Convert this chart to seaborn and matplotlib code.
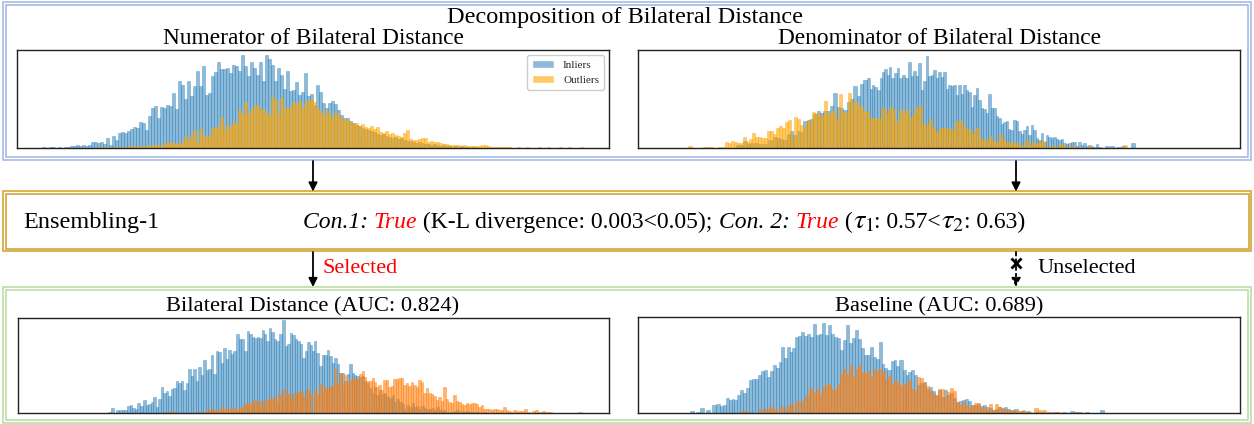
import numpy as np
import pandas as pd
import matplotlib
matplotlib.use("Agg")
import matplotlib.pyplot as plt
import matplotlib.colors as mcolors
from matplotlib.patches import Rectangle, FancyArrowPatch, Patch
from matplotlib.lines import Line2D
import seaborn as sns

sns.set_theme(style="white")
plt.rcParams["font.family"] = ["Liberation Serif", "DejaVu Serif"]
plt.rcParams["mathtext.fontset"] = "stix"

# ---------------- data (bin positions and heights) ----------------
# Numerator (top-left): regular bins
TL_IN_START, TL_IN_STEP = 27, 3
TL_IN = [1,0,1,1,0,1,0,1,1,2, 2,3,2,3,2,3,6,6,5,6, 4,10,3,12,8,15,16,15,17,19,
         21,20,26,25,18,32,40,42,30,41, 40,43,42,55,39,67,63,49,67,52,
         62,77,62,82,53,55,72,76,86,79, 79,80,75,83,82,77,93,82,72,86,
         80,73,86,67,93,89,83,67,80,73, 59,77,57,58,66,53,56,75,52,54,
         43,63,56,45,40,45,47,44,
         38,33,30,30,27,25,23,22,20,19, 18,17,16,14,13,14,12,11,10,11,
         9,10,8,7,7,6,5,6,5,4, 4,3,4,3,2,3,2,2,1,2, 1,2,1,1,0,1]
TL_OUT_START, TL_OUT_STEP = 81, 3
TL_OUT = [1,0,1,1,0,1,1,1,0,1, 1,2,1,2,2,1,2,3,2,3, 3,2,5,5,6,5,4,5,6,12,
          8,13,18,6,19,13,11,12,20,20, 22,31,18,23,21,26,24,38,34,46,
          34,38,42,43,38,39,35,33,51,48, 34,50,39,41,40,46,44,47,40,45,
          48,49,46,40,37,33,38,34,30,36,
          33,30,29,28,26,24,25,22,24,21, 20,22,19,21,16,15,17,14,15,13,
          12,11,15,18,9,8,8,9,10,10, 6,7,6,6,5,4,4,3,3,3,
          3,2,3,2,2,2,2,2,3,3, 2,1,1,1,1,1,1,1,0,0,
          0.7,0,0,0.7,0,0,0,0.7,0,0, 0.7,0,0,0,0.7,0,0,0.7,0,0, 0,0.7]

# Denominator (top-right)
TR_IN_X = [100,103,107,110,113,118,122,127,132,137,140,143,147,150,153,157,160,163,167,170,
           173,177,180,183,187,190,193,197,200,203,207,210,213,217,220,223,227,230,233,235,
           237,240,243,245,247,250,252,254,257,260,262,265,269,271,274,276,279,281,284,286,
           289,291,294,296,299,301,304,306,309,311,314,316,319,321,324,326,329,331,334,336,
           339,341,344,346,349,351,354,356,359,361,364,366,369,371,373,376,379,381,384,386,
           389,391,394,396,399,401,404,406,409,411,414,416,419,421,424,426,429,431,434,436,
           439,441,444,446,449,451,454,456,459,461,465,469,474,480,485,495]
TR_IN_H = [3,3,7,4,5,5,4,4,8,11,10,9,8,14,17,13,17,16,27,28,
           29,34,37,35,37,37,42,55,41,40,38,46,49,62,52,64,68,70,59,63,
           61,58,70,76,79,73,81,70,75,80,70,73,70,86,72,77,72,85,58,67,
           92,72,73,78,70,76,71,76,59,63,62,63,53,63,54,63,58,56,41,53,
           60,48,40,39,35,54,40,40,32,30,24,26,27,19,18,28,27,17,14,18,
           22,13,23,18,10,8,15,6,13,11,10,11,9,8,9,5,4,5,6,6,
           2,6,3,5,2,3,2,1,4,1,0.5,2,2,1,2,5]
TR_OUT_X = [52,67,70,73,82,85,88,91,94,97,100,103,106,109,112,115,118,121,124,127,
            130,133,136,139,142,145,148,151,154,157,160,163,166,169,172,175,178,181,184,187,
            190,193,196,199,202,205,208,211,214,217,220,223,226,229,232,235,238,241,245,248,
            252,255,259,262,265,269,272,275,279,282,285,289,292,295,299,302,305,309,312,315,
            319,322,325,329,332,335,339,342,345,349,352,355,359,362,365,369,372,375,379,382,
            385,389,392,395,399,402,405,409,412,415,419,422,425,429,432,435,439,442,452,487]
TR_OUT_H = [2,1,1,1,1,1,6,5,7,6,5,5,11,6,9,15,11,11,10,10,
            17,17,14,20,22,20,26,28,11,31,29,23,20,27,27,36,35,33,33,47,
            34,36,38,29,54,36,35,55,46,47,43,41,36,37,30,30,30,29,40,35,
            41,38,27,39,35,38,30,34,41,42,24,23,29,21,16,20,20,20,19,18,
            27,28,22,19,18,14,20,10,8,8,12,7,6,14,9,6,5,6,5,3,
            2,8,3,6,5,6,7,1,2,2,1,4,3,1,2,1,1,1,2,3]

# Bilateral distance (bottom-left)
BL_IN_X = [92,95,100,103,105,108,111,113,116,118,121,123,127,129,132,134,137,139,142,144,
           147,149,152,154,157,159,162,164,167,169,172,174,177,179,182,184,187,189,192,194,
           197,199,202,204,207,209,212,214,217,220,222,225,228,230,233,235,238,240,243,245,
           247,250,252,255,257,260,263,266,268,271,273,276,278,281,283,286,288,291,
           293,295,297,300,303,306,308,311,313,316,318,321,323,326,328,331,333,336,338,340,
           343,346,348,350,353,356,358,360,363,365,368,370,373,376,378,380,383,386,388,390,
           393,396,398,400,403,405,408,410,413,415,418,420,423,426,428,430,433,436,438,440,
           443,446,448,450,453,456,460,466]
BL_IN_H = [1,5,3,3,3,3,7,8,5,4,10,7,13,8,9,11,16,6,14,26,
           20,22,17,24,25,32,30,32,23,30,44,37,44,32,46,38,53,43,44,58,
           39,62,61,50,65,54,63,59,62,79,74,74,62,82,79,76,75,76,75,83,
           79,72,85,81,74,72,79,93,67,69,80,78,74,72,69,55,62,71,
           68,62,72,60,47,58,58,63,57,50,55,49,40,40,32,39,49,40,38,37,
           36,37,32,30,25,20,26,18,23,19,20,17,15,18,11,14,11,9,4,8,
           6,10,6,7,4,7,5,4,4,5,3,6,3,2,3,1,1,1,2,3,
           1,2,1,2,1,1,1,1]
BL_OUT_X = [148,152,157,180,183,190,193,195,197,200,204,207,209,212,214,217,219,222,224,227,
            229,232,234,237,239,242,244,247,249,252,254,257,259,262,264,267,269,272,274,277,
            279,282,284,287,289,
            293,298,300,303,306,308,310,313,315,318,320,323,326,328,331,333,336,338,341,343,
            346,348,350,353,356,358,360,362,365,367,370,372,375,377,380,382,385,387,390,392,
            395,397,400,402,405,407,410,412,415,417,420,422,425,427,430,432,435,437,440,442,
            445,447,450,452,455,457,460,462,465,467,470,472,475,477,480,482,485,487,490,492,
            495,497,500,502,505,508,511,516,519,523,526,529,533,563]
BL_OUT_H = [1,1,2,1,1,4,3,4,3,2,6,4,4,4,5,5,3,5,5,9,
            10,9,10,13,10,12,6,13,12,15,14,16,11,19,16,24,19,19,13,20,
            19,21,22,16,24,
            19,24,19,29,22,26,25,26,27,44,30,40,28,38,30,33,35,34,34,39,
            42,36,32,32,35,31,26,28,23,33,33,26,27,34,34,35,35,28,30,27,
            31,28,26,33,31,20,25,20,19,17,13,16,12,26,14,11,10,18,12,11,
            9,8,10,9,10,10,9,6,8,4,4,4,3,4,4,3,3,6,3,2,
            1,3,2,2,2,4,1,2,3,1,2,1,1,1]

# Baseline (bottom-right)
BR_IN_X = [30,54,60,64,70,76,80,83,86,89,92,95,97,100,103,107,109,112,115,119,
           121,125,127,130,133,136,139,142,144,147,150,153,155,158,161,164,167,170,173,176,
           179,182,185,188,191,194,197,200,203,206,209,212,215,218,221,224,227,230,233,236,
           239,242,245,247,251,254,257,259,263,266,269,271,274,277,280,283,286,290,292,295,
           298,302,304,307,310,314,316,320,322,325,328,331,334,337,340,343,346,349,352,355,
           358,361,364,367,370,374,378,384,390,398,404,410,418,426,434,438,442,449,464]
BR_IN_H = [0.5,2,1,5,3,8,9,7,8,15,13,14,13,18,23,20,25,33,34,34,
           38,42,43,36,42,48,45,52,67,56,67,62,66,77,78,82,78,80,77,90,
           79,80,91,79,89,80,77,76,64,74,89,71,76,84,75,66,59,59,67,57,
           55,72,50,45,43,53,54,47,54,43,38,41,43,38,28,30,31,24,26,22,
           18,23,16,23,18,20,15,11,12,13,14,12,8,8,9,7,8,6,5,3,
           4,6,5,6,4,3,4,2,2,1,1,1,1,1,2,1,1,1,3]
BR_OUT_X = [105,111,123,129,133,137,143,149,153,159,164,169,173,176,179,182,185,188,191,194,
            197,200,203,206,209,212,215,218,221,224,227,230,233,236,239,242,245,248,251,254,
            257,259,263,266,268,271,274,277,280,284,286,290,292,295,298,302,304,307,310,314,
            316,319,322,325,328,331,334,337,340,343,346,349,352,355,358,361,364,367,370,373,
            376,379,382,385,388,392,398,401,406,414,420,438]
BR_OUT_H = [2,1,4,4,6,4,6,6,9,12,12,18,25,21,24,19,26,28,29,24,
            23,29,39,44,39,48,36,44,49,41,40,42,36,44,42,44,41,34,37,29,
            33,31,28,29,30,33,24,23,36,35,30,27,22,20,17,24,24,16,21,25,
            22,11,8,11,8,6,8,10,10,5,6,3,9,3,9,6,4,4,3,2,
            3,2,2,3,1,1,5,3,3,1,1,1]

TITLE_MAIN = "Decomposition of Bilateral Distance"
TITLES = ["Numerator of Bilateral Distance", "Denominator of Bilateral Distance",
          "Bilateral Distance (AUC: 0.824)", "Baseline (AUC: 0.689)"]
LEGEND_LABELS = ["Inliers", "Outliers"]

# ---------------- figure ----------------
W, H = 1254, 424
fig = plt.figure(figsize=(W / 100, H / 100), dpi=100)
fig.patch.set_facecolor("white")


def fx(x):
    return x / W


def fy(y):
    return 1 - y / H


C_IN = "#1f77b4"
C_OUT_TOP = "#ffa500"
C_OUT_BOT = "#ff7f0e"


def edges_from(xs, cap=2.2):
    xs = np.asarray(xs, float)
    gaps = np.diff(xs)
    gl = np.concatenate([[99], gaps])
    gr = np.concatenate([gaps, [99]])
    lh = np.where(gl <= 2 * cap, gl / 2, 1.6)
    rh = np.where(gr <= 2 * cap, gr / 2, 1.6)
    e = np.concatenate([xs - lh, xs + rh])
    return list(np.unique(np.round(e, 3)))


def draw_hist(ax, xs, hs, color, alpha):
    df = pd.DataFrame({"x": np.asarray(xs, float), "w": np.asarray(hs, float)})
    sns.histplot(data=df, x="x", weights="w", bins=edges_from(xs), stat="count", ax=ax,
                 color=color, alpha=alpha, linewidth=0.5,
                 edgecolor=mcolors.to_rgba(color, alpha * 0.9))


def make_ax(x0, y0, x1, y1):
    return fig.add_axes([fx(x0), fy(y1), (x1 - x0) / W, (y1 - y0) / H])


def style_ax(ax, xmax, ymax):
    ax.set_xlim(0, xmax)
    ax.set_ylim(0, ymax)
    ax.set_xticks([])
    ax.set_yticks([])
    ax.set_xlabel("")
    ax.set_ylabel("")
    ax.grid(False)
    for s in ax.spines.values():
        s.set_visible(True)
        s.set_color("#222222")
        s.set_linewidth(1.0)


# boxes (double borders)
def double_box(x0, y0, x1, y1, color, gap=3, lw=1.1):
    for g in (0, gap):
        fig.add_artist(Rectangle((fx(x0 + g), fy(y1 - g)), (x1 - x0 - 2 * g) / W,
                                 (y1 - y0 - 2 * g) / H, transform=fig.transFigure,
                                 fill=False, edgecolor=color, linewidth=lw, zorder=0))


double_box(3, 2, 1251, 160, "#9fb5e3")
double_box(3, 191.5, 1251, 251, "#cf9f25", gap=2.5)
double_box(3, 287, 1251, 423, "#b7dba0")

# axes
ax_tl = make_ax(17, 50, 609, 148)
ax_tr = make_ax(638, 50, 1240, 148)
ax_bl = make_ax(18, 318, 609, 413)
ax_br = make_ax(638, 317, 1240, 413)

tl_in_x = TL_IN_START + TL_IN_STEP * np.arange(len(TL_IN))
tl_out_x = TL_OUT_START + TL_OUT_STEP * np.arange(len(TL_OUT))
draw_hist(ax_tl, tl_in_x, TL_IN, C_IN, 0.5)
draw_hist(ax_tl, tl_out_x, TL_OUT, C_OUT_TOP, 0.6)
style_ax(ax_tl, 592, 98)

draw_hist(ax_tr, TR_IN_X, TR_IN_H, C_IN, 0.5)
draw_hist(ax_tr, TR_OUT_X, TR_OUT_H, C_OUT_TOP, 0.6)
style_ax(ax_tr, 602, 98)

draw_hist(ax_bl, BL_IN_X, BL_IN_H, C_IN, 0.5)
draw_hist(ax_bl, BL_OUT_X, BL_OUT_H, C_OUT_BOT, 0.6)
style_ax(ax_bl, 592, 95)

draw_hist(ax_br, BR_IN_X, BR_IN_H, C_IN, 0.5)
draw_hist(ax_br, BR_OUT_X, BR_OUT_H, C_OUT_BOT, 0.6)
style_ax(ax_br, 602, 97)

handles = [Patch(facecolor=mcolors.to_rgba(C_IN, 0.5), label=LEGEND_LABELS[0]),
           Patch(facecolor=mcolors.to_rgba(C_OUT_TOP, 0.6), label=LEGEND_LABELS[1])]
ax_tl.legend(handles=handles, loc="upper right", fontsize=8, frameon=True,
             fancybox=True, edgecolor="#cccccc", framealpha=1.0, borderpad=0.45,
             handlelength=2.0, handletextpad=0.8, labelspacing=0.45, borderaxespad=0.45)

# titles
FS = 17.5
FS_TOP = 16.8
FS_BOT = 16.2
fig.text(fx(625), fy(22.5), TITLE_MAIN, ha="center", va="baseline", fontsize=FS, color="black")
fig.text(fx(313), fy(44), TITLES[0], ha="center", va="baseline", fontsize=FS_TOP, color="black")
fig.text(fx(939), fy(44), TITLES[1], ha="center", va="baseline", fontsize=FS_TOP, color="black")
fig.text(fx(313), fy(311), TITLES[2], ha="center", va="baseline", fontsize=FS_BOT, color="black")
fig.text(fx(939), fy(311), TITLES[3], ha="center", va="baseline", fontsize=FS_BOT, color="black")

fig.text(fx(23), fy(228), "Ensembling-1", ha="left", va="baseline", fontsize=FS, color="black")

FS2 = 17
pieces = [("Con.1: ", dict(style="italic", color="black")),
          ("True", dict(style="italic", color="red")),
          (" (K-L divergence: 0.003<0.05); ", dict(color="black")),
          ("Con. 2: ", dict(style="italic", color="black")),
          ("True", dict(style="italic", color="red")),
          (" (", dict(color="black")),
          (r"$\tau_1$", dict(color="black", fontsize=FS2 * 1.2)),
          (": 0.57<", dict(color="black")),
          (r"$\tau_2$", dict(color="black", fontsize=FS2 * 1.2)),
          (": 0.63)", dict(color="black"))]
renderer = fig.canvas.get_renderer()
texts = []
widths = []
for s, kw in pieces:
    kw = dict(kw)
    fs = kw.pop("fontsize", FS2)
    t = fig.text(0, fy(228), s, ha="left", va="baseline", fontsize=fs, **kw)
    texts.append(t)
    widths.append(t.get_window_extent(renderer).width)
total = sum(widths)
x = 664 - total / 2
for t, w in zip(texts, widths):
    t.set_x(fx(x))
    x += w

# arrows
def arrow(x, y0, y1, ls="-"):
    fig.add_artist(FancyArrowPatch((fx(x), fy(y0)), (fx(x), fy(y1)), transform=fig.transFigure,
                                   arrowstyle="-|>", mutation_scale=13, color="black",
                                   linewidth=1.3, linestyle=ls, shrinkA=0, shrinkB=0))


arrow(313, 161, 191.5)
arrow(1016, 161, 191.5)
arrow(313, 252, 287)
arrow(1016, 252, 287, ls=(0, (2, 2)))
fig.add_artist(Line2D([fx(1016)], [fy(263)], marker="x", markersize=6.5, markeredgewidth=2,
                      color="black", transform=fig.transFigure))
fig.text(fx(323), fy(273), "Selected", ha="left", va="baseline", fontsize=16, color="red")
fig.text(fx(1038), fy(273), "Unselected", ha="left", va="baseline", fontsize=16, color="black")

fig.savefig("out.png", dpi=100, facecolor="white")
